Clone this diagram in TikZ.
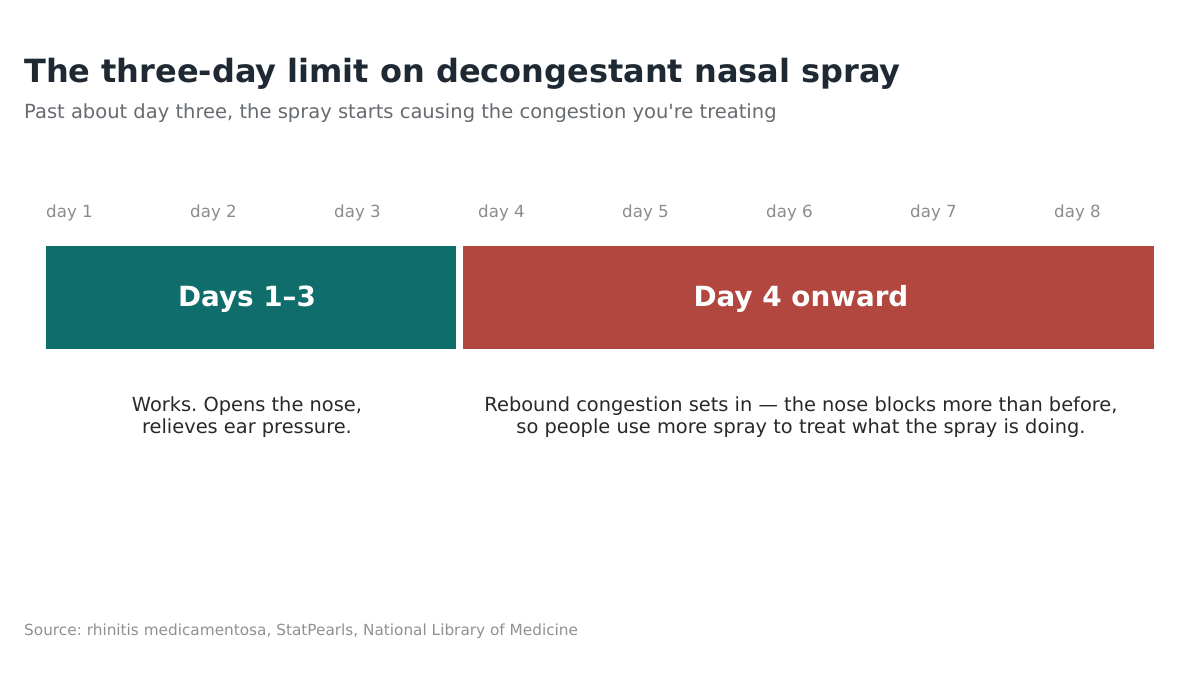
\documentclass[tikz,border=0pt]{standalone}
\usepackage{fontspec}
\setmainfont{DejaVu Sans}[Ligatures=TeXOff]
\frenchspacing
\definecolor{titlec}{HTML}{1F2933}
\definecolor{subc}{HTML}{666B70}
\definecolor{dayc}{HTML}{8C8C8C}
\definecolor{tealc}{HTML}{0F6E6C}
\definecolor{redc}{HTML}{B1473E}
\definecolor{textc}{HTML}{26292C}
\definecolor{srcc}{HTML}{8E9092}
\begin{document}
\begin{tikzpicture}[x=1pt,y=-1pt,
  daylbl/.style={anchor=base west,inner sep=0,text=dayc,font=\fontsize{16.7}{19}\selectfont},
  bar/.style={anchor=north west,inner sep=0,minimum height=103pt},
  barlbl/.style={anchor=center,inner sep=0,text=white,font=\fontsize{27.8}{32}\selectfont\bfseries},
  desc/.style={anchor=center,inner sep=0,align=center,text=textc,font=\fontsize{19.4}{22}\selectfont}]
\useasboundingbox (0,0) rectangle (1200,675);
\node[anchor=base west,inner sep=0,text=titlec,font=\fontsize{32}{36}\selectfont\bfseries] (title) at (24,82) {The three-day limit on decongestant nasal spray};
\node[anchor=base west,inner sep=0,text=subc,font=\fontsize{19.5}{22}\selectfont] (sub) at (24,118.5) {Past about day three, the spray starts causing the congestion you're treating};
\foreach \i in {1,...,8} {
  \node[daylbl] (d\i) at ({46+144*(\i-1)},217) {day \i};
}
\node[bar,fill=tealc,minimum width=410pt] (b1) at (46,246) {};
\node[barlbl] (b1t) at (247,299) {Days 1–3};
\node[bar,fill=redc,minimum width=691pt] (b2) at (463,246) {};
\node[barlbl] (b2t) at (801,299) {Day 4 onward};
\node[desc] (t1) at (247,417) {Works. Opens the nose,\\relieves ear pressure.};
\node[desc] (t2) at (801,417) {Rebound congestion sets in — the nose blocks more than before,\\so people use more spray to treat what the spray is doing.};
\node[anchor=base west,inner sep=0,text=srcc,font=\fontsize{15.3}{18}\selectfont] (src) at (24,635) {Source: rhinitis medicamentosa, StatPearls, National Library of Medicine};
\end{tikzpicture}
\end{document}
